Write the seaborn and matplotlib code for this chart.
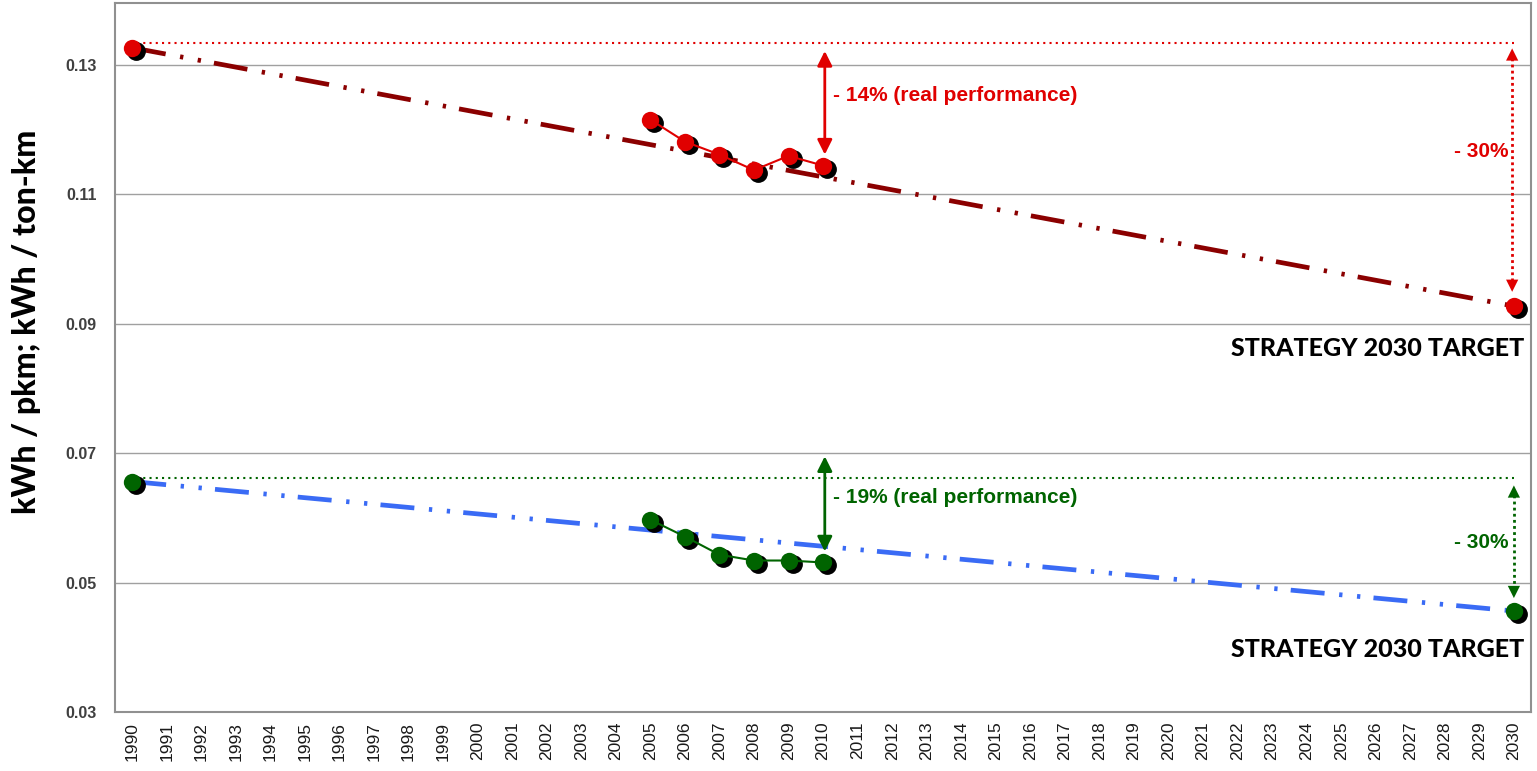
import seaborn as sns
import pandas as pd
import matplotlib
matplotlib.use("Agg")
from matplotlib import pyplot as plt
from matplotlib import transforms

# data
years = list(range(1990, 2031))
red_years = [2005, 2006, 2007, 2008, 2009, 2010]
red_vals = [0.1215, 0.1181, 0.1161, 0.1137, 0.1159, 0.1144]
green_years = [2005, 2006, 2007, 2008, 2009, 2010]
green_vals = [0.0597, 0.0571, 0.0543, 0.0534, 0.0534, 0.0531]
red_trend_years = [1990, 2030]
red_trend_vals = [0.1326, 0.0927]
blue_trend_years = [1990, 2030]
blue_trend_vals = [0.0656, 0.0456]
red_ref = 0.1333
green_ref = 0.0662
yticks = [0.03, 0.05, 0.07, 0.09, 0.11, 0.13]

sns.set_style("white")
plt.rcParams['font.family'] = ['Liberation Sans', 'DejaVu Sans']

fig = plt.figure(figsize=(15.37, 7.71), dpi=100)
ax = fig.add_axes([0.0748, 0.0765, 0.9214, 0.9195])

red = "#E00000"
dkred = "#8B0000"
green = "#006400"
blue = "#3A6BF5"
trend_dash = (7.2, 3.1, 0.7, 3.1, 0.7, 2.8)

red_df = pd.DataFrame({"year": red_years, "val": red_vals})
green_df = pd.DataFrame({"year": green_years, "val": green_vals})
red_pts = pd.DataFrame({"year": red_trend_years, "val": red_trend_vals})
green_pts = pd.DataFrame({"year": blue_trend_years, "val": blue_trend_vals})

# horizontal dotted reference lines
ax.plot([1990.15, 2030], [red_ref, red_ref], color=red, lw=1.5, ls=(0, (1, 2)), zorder=2)
ax.plot([1990.15, 2030], [green_ref, green_ref], color=green, lw=1.5, ls=(0, (1, 2)), zorder=2)

# trend lines
sns.lineplot(data=red_pts, x="year", y="val", color=dkred, lw=3.4, ax=ax, zorder=3)
ax.lines[-1].set_dashes(trend_dash)
sns.lineplot(data=green_pts, x="year", y="val", color=blue, lw=3.4, ax=ax, zorder=3)
ax.lines[-1].set_dashes(trend_dash)

# shadows
shadow = transforms.offset_copy(ax.transData, fig=fig, x=4, y=-3, units='dots')
for d in [red_df, green_df, red_pts, green_pts]:
    ax.plot(d["year"], d["val"], 'o', color='black', ms=12.5, transform=shadow, zorder=4)

# measured series
sns.lineplot(data=red_df, x="year", y="val", color=red, lw=1.5, marker='o', ms=12.5,
             markeredgewidth=0, ax=ax, zorder=5)
sns.lineplot(data=green_df, x="year", y="val", color=green, lw=1.5, marker='o', ms=12.5,
             markeredgewidth=0, ax=ax, zorder=5)
sns.scatterplot(data=red_pts, x="year", y="val", color=red, s=156, linewidth=0, ax=ax, zorder=5)
sns.scatterplot(data=green_pts, x="year", y="val", color=green, s=156, linewidth=0, ax=ax, zorder=5)

# solid double arrows (real performance)
ax.annotate("", xy=(2010.05, 0.1321), xytext=(2010.05, 0.1161),
            arrowprops=dict(arrowstyle='<|-|>', color=red, lw=2, mutation_scale=22, shrinkA=0, shrinkB=0))
ax.annotate("", xy=(2010.05, 0.0695), xytext=(2010.05, 0.0548),
            arrowprops=dict(arrowstyle='<|-|>', color=green, lw=2, mutation_scale=22, shrinkA=0, shrinkB=0))

# dotted double arrows (targets): dotted shaft + solid heads
for xx, top, bot, col in [(2029.95, 0.1325, 0.0949, red), (2030.0, 0.0650, 0.0476, green)]:
    ax.plot([xx, xx], [top - 0.0015, bot + 0.0015], color=col, lw=2, ls=(0, (1, 1.2)), zorder=6)
    ax.annotate("", xy=(xx, top), xytext=(xx, top - 0.002),
                arrowprops=dict(arrowstyle='-|>', color=col, lw=0, mutation_scale=22, shrinkA=0, shrinkB=0))
    ax.annotate("", xy=(xx, bot), xytext=(xx, bot + 0.002),
                arrowprops=dict(arrowstyle='-|>', color=col, lw=0, mutation_scale=22, shrinkA=0, shrinkB=0))

# text labels
ax.text(2010.3, 0.1252, "- 14% (real performance)", color=red, fontsize=15, fontweight='bold', va='center')
ax.text(2010.3, 0.0631, "- 19% (real performance)", color=green, fontsize=15, fontweight='bold', va='center')
ax.text(2029.05, 0.1166, "- 30%", color=red, fontsize=15, fontweight='bold', va='center', ha='center')
ax.text(2029.05, 0.0562, "- 30%", color=green, fontsize=15, fontweight='bold', va='center', ha='center')
ax.text(2030.3, 0.0862, "STRATEGY 2030 TARGET", fontsize=18, fontweight='black', va='center', ha='right',
        color='black', family=['Lato', 'DejaVu Sans'])
ax.text(2030.3, 0.0397, "STRATEGY 2030 TARGET", fontsize=18, fontweight='black', va='center', ha='right',
        color='black', family=['Lato', 'DejaVu Sans'])

# axes
ax.set_xlim(1989.5, 2030.5)
ax.set_ylim(0.03, 0.1395)
ax.set_xticks(years)
ax.set_xticklabels([str(y) for y in years], rotation=90, fontsize=12.5, color='#1a1a1a')
ax.set_xticks([y + 0.5 for y in years[:-1]], minor=True)
ax.tick_params(axis='x', which='major', length=0, pad=7)
ax.tick_params(axis='x', which='minor', direction='in', length=5, color='#A0A0A0')
ax.set_yticks(yticks)
ax.set_yticklabels([f"{v:.2f}" for v in yticks], fontsize=11.5, fontweight='bold', color='#404040')
ax.tick_params(axis='y', length=0, pad=13)
ax.grid(axis='y', color='#A0A0A0', lw=1)
ax.set_axisbelow(True)
for s in ax.spines.values():
    s.set_color('#909090')
    s.set_linewidth(1.5)
ax.set_xlabel("")
ax.set_ylabel("kWh / pkm; kWh / ton-km", fontsize=23, fontweight='black', color='black',
              family=['Lato', 'DejaVu Sans'])
ax.yaxis.set_label_coords(-0.052, 0.551)

fig.savefig("out.png", dpi=100)
